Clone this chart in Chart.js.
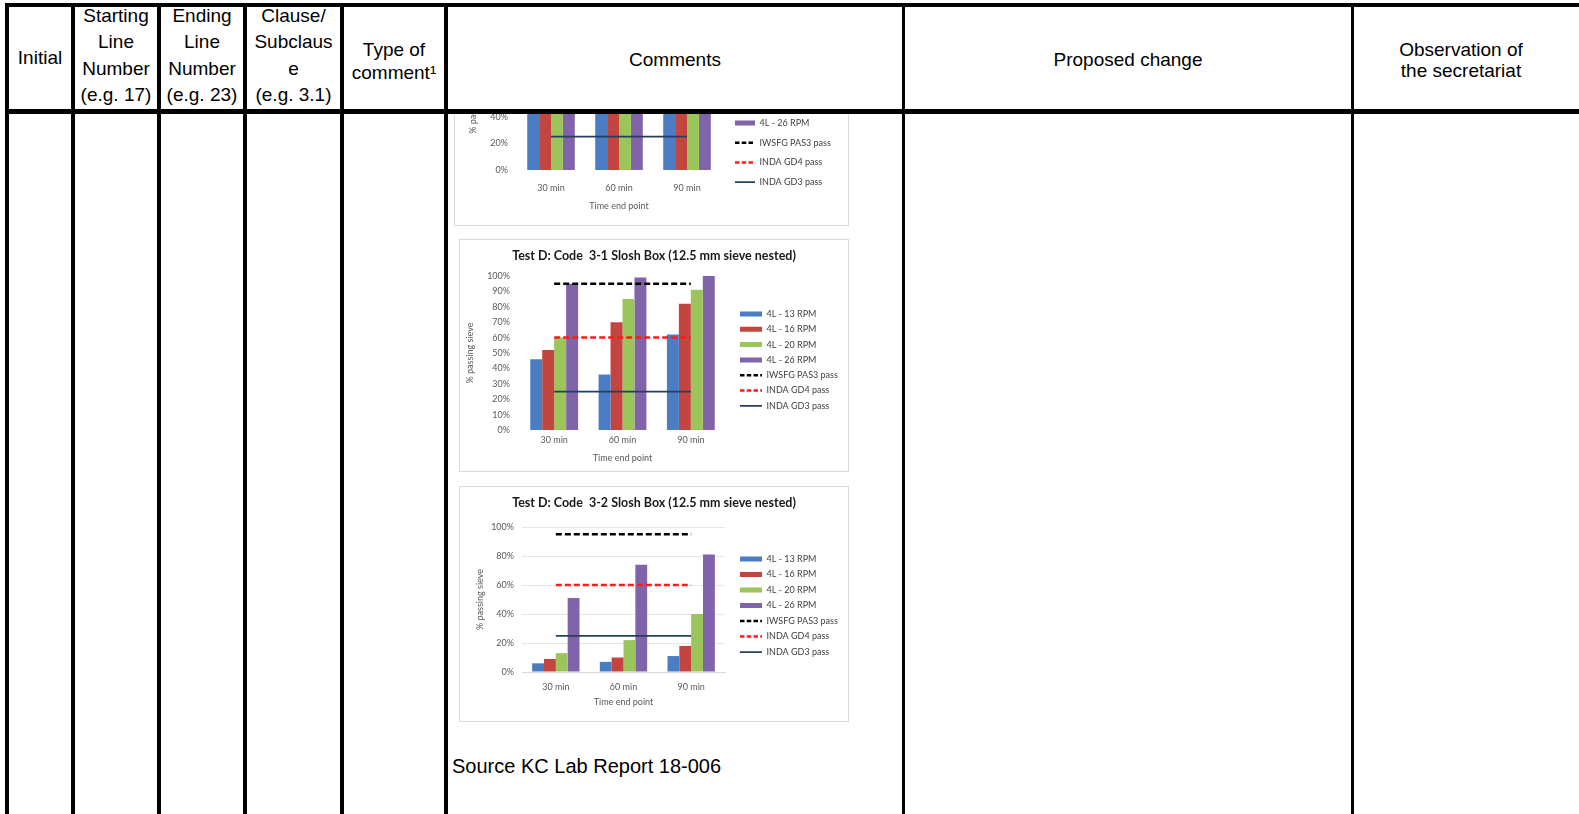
<!DOCTYPE html>
<html>
<head>
<meta charset="utf-8">
<title>Slosh Box comments</title>
<script src="https://cdn.jsdelivr.net/npm/chart.js@4.4.1/dist/chart.umd.min.js"></script>
<style>
  html, body { margin: 0; padding: 0; background: #fff; }
  body { width: 1579px; height: 814px; position: relative; overflow: hidden;
         font-family: "Liberation Sans", Arial, sans-serif; color: #000; }
  .vl { position: absolute; top: 3px; bottom: 0; background: #000; }
  .hl { position: absolute; left: 5px; right: 0; background: #000; }
  .hd { position: absolute; font-size: 19px; text-align: center; white-space: nowrap; }
  .box { position: absolute; outline: 1px solid #d9d9d9; background: #fff; }
  .clip { position: absolute; overflow: hidden; }
  .src { position: absolute; left: 452px; top: 755px; font-size: 20px; white-space: nowrap; }
</style>
</head>
<body>

<!-- table grid -->
<div class="hl" style="top:3px;height:4px"></div>
<div class="hl" style="top:109px;height:5px"></div>
<div class="vl" style="left:5px;width:4px"></div>
<div class="vl" style="left:71px;width:4px"></div>
<div class="vl" style="left:157px;width:4px"></div>
<div class="vl" style="left:243px;width:4px"></div>
<div class="vl" style="left:340px;width:4px"></div>
<div class="vl" style="left:444px;width:4px"></div>
<div class="vl" style="left:902px;width:3px"></div>
<div class="vl" style="left:1351px;width:3px"></div>

<div class="hd" style="left:9px;width:62px;top:45px;line-height:26px">Initial</div>
<div class="hd" style="left:75px;width:82px;top:3px;line-height:26.3px">Starting<br>Line<br>Number<br>(e.g. 17)</div>
<div class="hd" style="left:161px;width:82px;top:3px;line-height:26.3px">Ending<br>Line<br>Number<br>(e.g. 23)</div>
<div class="hd" style="left:247px;width:93px;top:3px;line-height:26.3px">Clause/<br>Subclaus<br>e<br>(e.g. 3.1)</div>
<div class="hd" style="left:344px;width:100px;top:38px;line-height:23px">Type of<br>comment¹</div>
<div class="hd" style="left:448px;width:454px;top:47px;line-height:26px">Comments</div>
<div class="hd" style="left:905px;width:446px;top:47px;line-height:26px">Proposed change</div>
<div class="hd" style="left:1355px;width:212px;top:39px;line-height:21px">Observation of<br>the secretariat</div>

<!-- charts pasted in the Comments cell -->
<div class="clip" style="left:448px;top:114px;width:454px;height:114px">
  <div class="box" style="left:7px;top:-114px;width:393px;height:225px"><canvas id="chartTop"></canvas></div>
</div>
<div class="box" style="left:460px;top:240px;width:388px;height:231px"><canvas id="chart31"></canvas></div>
<div class="box" style="left:460px;top:487px;width:388px;height:234px"><canvas id="chart32"></canvas></div>

<div class="src">Source KC Lab Report 18-006</div>

<script>
// ---- data ----
const timeLabels = ['30 min', '60 min', '90 min'];
const rpmNames = ['4L - 13 RPM', '4L - 16 RPM', '4L - 20 RPM', '4L - 26 RPM'];
const passNames = ['IWSFG PAS3 pass', 'INDA GD4 pass', 'INDA GD3 pass'];

const iwsfgPass = [95, 95, 95];
const indaGd4Pass = [60, 60, 60];
const indaGd3Pass = [25, 25, 25];

// top chart, cut by the table header (only 0-40% shows)
const topRpm13 = [55, 70, 80];
const topRpm16 = [65, 80, 90];
const topRpm20 = [75, 90, 95];
const topRpm26 = [85, 95, 99];

const code31Title = 'Test D: Code  3-1 Slosh Box (12.5 mm sieve nested)';
const code31Rpm13 = [46, 36, 62];
const code31Rpm16 = [52, 70, 82];
const code31Rpm20 = [60, 85, 91];
const code31Rpm26 = [95, 99, 100];

const code32Title = 'Test D: Code  3-2 Slosh Box (12.5 mm sieve nested)';
const code32Rpm13 = [6, 7, 11];
const code32Rpm16 = [9, 10, 18];
const code32Rpm20 = [13, 22, 40];
const code32Rpm26 = [51, 74, 81];

// ---- styles ----
const rpmColors = ['#4a7dc4', '#c4453f', '#9bc45a', '#8063a8'];
const passStyles = [
  { color: '#000000', width: 2.5, dash: [6, 3] },
  { color: '#ff1a1a', width: 2.5, dash: [6, 3] },
  { color: '#243f60', width: 1.75, dash: [] }
];
const GREY = '#595959';
Chart.defaults.font.family = 'Lato, "Open Sans", sans-serif';

function buildDatasets(rpmSeries) {
  const bars = rpmSeries.map((vals, i) => ({
    type: 'bar', label: rpmNames[i], data: vals, yAxisID: 'y',
    backgroundColor: rpmColors[i], borderWidth: 0, order: 1,
    categoryPercentage: 0.7, barPercentage: 1
  }));
  const lines = [iwsfgPass, indaGd4Pass, indaGd3Pass].map((vals, i) => ({
    type: 'line', label: passNames[i], data: vals, yAxisID: 'y',
    borderColor: passStyles[i].color, backgroundColor: passStyles[i].color,
    borderWidth: passStyles[i].width, borderDash: passStyles[i].dash,
    pointRadius: 0, fill: false, order: 0
  }));
  return bars.concat(lines);
}

// legend width is forced so the plot area lands where the picture has it
function fixedLegend(width) {
  return {
    id: 'fixedLegend',
    beforeInit(chart) {
      const lg = chart.legend;
      const fit = lg.fit;
      lg.fit = function () { fit.call(this); this.width = width; };
    }
  };
}

function makeChart(id, title, rpmSeries, g) {
  const pad = g.rowGap - 9;
  const gap = g.legendX - g.areaRight - pad;
  const legendW = g.width - g.areaRight - gap;
  const legendTop = title ? 0 : g.areaTop;
  const legendTitleH = g.legendFirst - 4.5 - pad - legendTop;
  const tLine = 12.5 * 1.2;
  const tTop = g.titleCenter - tLine / 2;

  return new Chart(document.getElementById(id), {
    type: 'bar',
    data: { labels: timeLabels, datasets: buildDatasets(rpmSeries) },
    plugins: [fixedLegend(legendW)],
    options: {
      responsive: true, maintainAspectRatio: false, animation: false,
      layout: { padding: { top: title ? 0 : g.areaTop, left: 0, right: 0, bottom: 0 } },
      plugins: {
        tooltip: { enabled: false },
        title: {
          display: !!title, text: title, color: '#1a1a1a',
          font: { size: 12.5, weight: 'bold' },
          padding: { top: tTop, bottom: g.areaTop - tTop - tLine }
        },
        legend: {
          position: 'right', align: 'start',
          title: { display: true, text: '', font: { size: 1 }, padding: { top: legendTitleH - 1.2, bottom: 0 } },
          labels: {
            usePointStyle: true, pointStyleWidth: g.boxW, boxHeight: 5, padding: pad,
            color: '#404040', font: { size: 9 },
            sort: (a, b) => a.datasetIndex - b.datasetIndex,
            generateLabels(chart) {
              const items = Chart.defaults.plugins.legend.labels.generateLabels(chart);
              items.forEach(it => {
                const ds = chart.data.datasets[it.datasetIndex];
                if (ds.type === 'line') {
                  it.pointStyle = 'line';
                  it.strokeStyle = ds.borderColor;
                  it.lineWidth = ds.borderWidth;
                  it.lineDash = ds.borderDash.map(d => d * 0.75);
                } else {
                  it.pointStyle = 'rect';
                  it.lineWidth = 0;
                }
              });
              return items;
            }
          }
        }
      },
      scales: {
        x: {
          type: 'category', offset: true,
          grid: { display: false, drawTicks: false },
          border: { display: g.grid, color: '#d9d9d9' },
          ticks: { color: GREY, font: { size: 9 }, padding: g.xtPad },
          title: { display: true, text: 'Time end point', color: GREY, font: { size: 9 },
                   padding: { top: 0, bottom: g.xtitlePad } },
          afterFit: s => { s.height = g.xh; }
        },
        y: {
          min: 0, max: 100,
          grid: { display: g.grid, color: '#e6e6e6', drawTicks: false },
          border: { display: false },
          ticks: { stepSize: g.step, color: GREY, font: { size: 9 }, padding: g.ytPad,
                   callback: v => v + '%' },
          title: { display: true, text: '% passing sieve', color: GREY, font: { size: 9 },
                   padding: { top: g.ytitlePad, bottom: 0 } },
          afterFit: s => { s.width = g.yw; }
        },
        gap: {
          type: 'linear', position: 'right', display: true,
          grid: { display: false, drawTicks: false }, border: { display: false },
          ticks: { display: false },
          afterFit: s => { s.width = gap; }
        }
      }
    }
  });
}

makeChart('chartTop', null, [topRpm13, topRpm16, topRpm20, topRpm26], {
  width: 393, areaTop: 36.5, titleCenter: 0, yw: 62, areaRight: 266, xh: 55,
  xtPad: 12.6, xtitlePad: 13.3, ytPad: 9, ytitlePad: 12.6,
  legendX: 280, legendFirst: 64, rowGap: 19.7, boxW: 20, step: 20, grid: false
});

makeChart('chart31', code31Title, [code31Rpm13, code31Rpm16, code31Rpm20, code31Rpm26], {
  width: 388, areaTop: 36, titleCenter: 15.5, yw: 60, areaRight: 265, xh: 41,
  xtPad: 4.6, xtitlePad: 7.6, ytPad: 10, ytitlePad: 4.6,
  legendX: 280, legendFirst: 74, rowGap: 15.3, boxW: 22, step: 10, grid: false
});

makeChart('chart32', code32Title, [code32Rpm13, code32Rpm16, code32Rpm20, code32Rpm26], {
  width: 388, areaTop: 40, titleCenter: 16, yw: 62, areaRight: 265, xh: 49,
  xtPad: 9.6, xtitlePad: 13.9, ytPad: 8, ytitlePad: 14.6,
  legendX: 280, legendFirst: 72, rowGap: 15.5, boxW: 22, step: 20, grid: true
});
</script>
</body>
</html>
